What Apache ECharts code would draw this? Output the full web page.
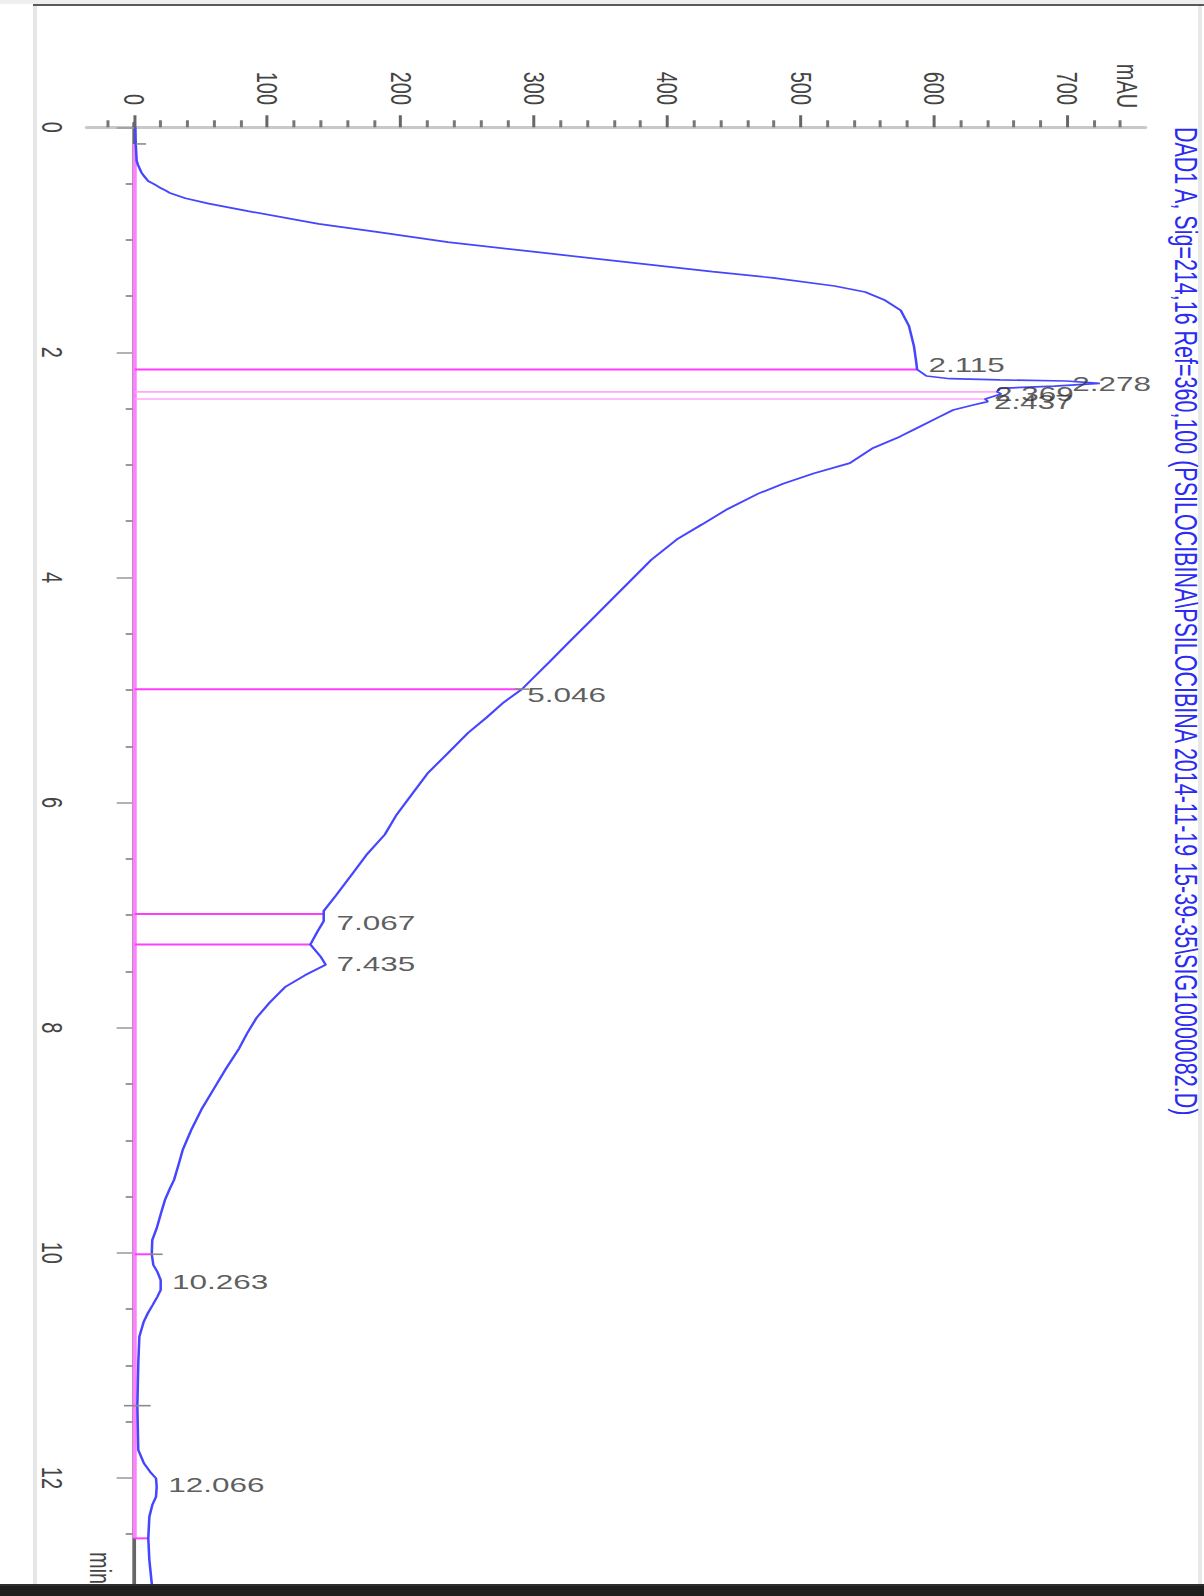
<!DOCTYPE html>
<html>
<head>
<meta charset="utf-8">
<title>DAD1 A chromatogram</title>
<script src="https://cdn.jsdelivr.net/npm/echarts@6/dist/echarts.min.js"></script>
<style>
  html, body { margin: 0; padding: 0; background: #fff; }
  #page { position: relative; width: 1204px; height: 1596px; overflow: hidden; background: #fff; }
  .band { position: absolute; }
  #chart {
    position: absolute; left: 0; top: 0;
    width: 1596px; height: 803px;
    transform-origin: 0 0;
    /* printout is laid on its side: time runs down the page, signal to the right */
    transform: translate(1204px, 0) rotate(90deg) scale(1, 1.499377);
  }
</style>
</head>
<body>
<div id="page">
  <div class="band" style="left:0;top:0;width:1204px;height:4px;background:#efefef"></div>
  <div class="band" style="left:33px;top:4px;width:1171px;height:2px;background:#5a5a5a"></div>
  <div class="band" style="left:33px;top:6px;width:4px;height:1578px;background:#e6e6e6"></div>
  <div class="band" style="left:1198px;top:6px;width:4px;height:1578px;background:#e8e8e8"></div>
  <div id="chart"></div>
  <div class="band" style="left:0;top:1584px;width:1204px;height:2px;background:#2e2e2e;z-index:5"></div>
  <div class="band" style="left:0;top:1586px;width:1204px;height:10px;background:#1e1e1e;z-index:5"></div>
</div>
<script>
// DAD1 A signal trace (retention time in min, absorbance in mAU)
const timeMin = [
  0.00, 0.15, 0.30, 0.335, 0.40, 0.433, 0.477, 0.498, 0.519, 0.542, 0.563, 0.581,
  0.63, 0.678, 0.745, 0.858, 0.930, 1.021, 1.112, 1.202, 1.283, 1.338, 1.410,
  1.464, 1.537, 1.627, 1.763, 1.944, 2.068, 2.152, 2.210, 2.234, 2.245, 2.254, 2.275,
  2.300, 2.319, 2.351, 2.369, 2.414, 2.437, 2.467, 2.512, 2.571, 2.674, 2.749, 2.849,
  2.984, 3.074, 3.165, 3.255, 3.391, 3.527, 3.662, 3.843, 4.024, 4.205, 4.386, 4.567,
  4.748, 4.883, 4.992, 5.109, 5.245, 5.380, 5.561, 5.742, 5.923, 6.104, 6.285, 6.466,
  6.646, 6.827, 6.963, 7.053, 7.144, 7.261, 7.369, 7.441, 7.532, 7.640, 7.776, 7.912,
  8.047, 8.183, 8.364, 8.545, 8.726, 8.907, 9.087, 9.205, 9.353, 9.427, 9.531, 9.649,
  9.782, 9.886, 10.013, 10.108, 10.168, 10.242, 10.331, 10.390, 10.464, 10.538, 10.612,
  10.745, 10.982, 11.358, 11.752, 11.871, 11.945, 12.004, 12.078, 12.167, 12.241,
  12.345, 12.537, 12.729, 12.937, 13.05
];
const signalMAU = [
  0.5, 0.8, 1.5, 2.5, 5, 7, 10, 13.5, 16.5, 19.8, 23.4, 25.9,
  38, 55.6, 85, 138, 181.5, 235, 303.8, 372.5, 433.4, 479, 525,
  548, 563, 574.7, 580.8, 584.6, 586.1, 587, 594, 611.6, 649, 699, 724,
  690, 649, 647, 650, 638, 640, 629, 614, 604, 586.6, 574, 554,
  536.5, 509.8, 486.9, 467.8, 444.9, 425.8, 406.7, 387.6, 372.3, 357.1, 341.8, 326.5,
  311.3, 299.8, 290.6, 276.9, 263.9, 250.2, 234.9, 219.6, 208.2, 196.7, 187.6, 173.8,
  162.4, 150.9, 141.8, 141.8, 137.2, 131.8, 139.5, 143.3, 128.0, 112.7, 101.3, 91.4,
  84.5, 78.4, 68.5, 59.3, 50.1, 42.5, 36.0, 33.2, 29.5, 26.5, 22.7, 19.7,
  16.5, 13.2, 12.8, 14.0, 17.0, 19.5, 19.5, 17.0, 13.5, 9.8, 6.8,
  3.5, 2.7, 2.0, 2.7, 7.0, 11.5, 16.0, 16.5, 16.0, 13.2,
  11.0, 10.2, 11.0, 12.8, 13.5
];

// integrated peaks: retention time and the height where its label sits
const peakTimes    = [2.115, 2.278, 2.369, 2.437, 5.046, 7.067, 7.435, 10.263, 12.066];
const peakLabelMAU = [587,   695,   637,   636,   286,   143,   143,   19.5,   16.7];

// integration baseline and the drop lines between peaks
const baselineSpan   = [0.148, 12.537];
const dropTimes      = [2.152, 4.992, 6.990, 7.261, 10.013, 12.537];
const dropMAU        = [587,   290.6, 141.8, 131.8, 11.5,   10.2];
const splitDropTimes = [2.351, 2.414];
const splitDropMAU   = [647,   638];

// baseline event marks: time, low end, high end (mAU)
const markTimes = [0.148, 4.992, 10.013, 11.358];
const markLow   = [1,     285,   11.5,   -8];
const markHigh  = [8.5,   296,   21,     12];

// axis ticks
const timeTicks      = [0, 2, 4, 6, 8, 10, 12];
const timeMinorTicks = [0.5, 1, 1.5, 2.5, 3, 3.5, 4.5, 5, 5.5, 6.5, 7, 7.5, 8.5, 9, 9.5, 10.5, 11, 11.5, 12.5, 13];
const mauTicks       = [0, 100, 200, 300, 400, 500, 600, 700];
const mauMinorTicks  = [-20, 20, 40, 60, 80, 120, 140, 160, 180, 220, 240, 260, 280, 320, 340, 360, 380,
                        420, 440, 460, 480, 520, 540, 560, 580, 620, 640, 660, 680, 720, 740];

const FONT = "'Liberation Sans', Arial, sans-serif";
const TIME_RANGE = [-0.038, 13.049];
const MAU_RANGE = [-35.8, 758];

const trace = timeMin.map((t, i) => [t, signalMAU[i]]);
const peaks = peakTimes.map((t, i) => [t, peakLabelMAU[i]]);
const drops = dropTimes.map((t, i) => [t, 0, dropMAU[i]]);
const splitDrops = splitDropTimes.map((t, i) => [t, 0, splitDropMAU[i]]);
const marks = markTimes.map((t, i) => [t, markLow[i], markHigh[i]]);

function verticalSegment(stroke, width) {
  return function (params, api) {
    const a = api.coord([api.value(0), api.value(1)]);
    const b = api.coord([api.value(0), api.value(2)]);
    return {
      type: 'line',
      shape: { x1: a[0], y1: a[1], x2: b[0], y2: b[1] },
      style: { stroke: stroke, lineWidth: width }
    };
  };
}

const chart = echarts.init(document.getElementById('chart'), null, { renderer: 'svg' });

chart.setOption({
  animation: false,
  backgroundColor: 'transparent',
  title: {
    text: 'DAD1 A, Sig=214,16 Ref=360,100 (PSILOCIBINA\\PSILOCIBINA 2014-11-19 15-39-35\\SIG10000082.D)',
    left: 127, top: 1, padding: 0,
    textStyle: { fontFamily: FONT, fontSize: 21.5, fontWeight: 'normal', color: '#2b2bf2' }
  },
  grid: { left: 123, right: 0, top: 39.3, bottom: 58, outerBoundsMode: 'none' },
  xAxis: [
    {
      type: 'value', position: 'bottom', min: TIME_RANGE[0], max: TIME_RANGE[1],
      name: 'min', nameLocation: 'end', nameGap: -44, nameMoveOverlap: false,
      nameTextStyle: { fontFamily: FONT, fontSize: 20, color: '#444', align: 'left', verticalAlign: 'top', padding: [13, 0, 0, 0] },
      axisLine: { show: true, lineStyle: { color: '#666', width: 2.5 } },
      axisTick: { show: true, length: 12, customValues: timeTicks, lineStyle: { color: '#999', width: 1.5 } },
      axisLabel: { show: true, customValues: timeTicks, margin: 13, fontFamily: FONT, fontSize: 20, color: '#444' },
      splitLine: { show: false }
    },
    {
      type: 'value', position: 'bottom', min: TIME_RANGE[0], max: TIME_RANGE[1],
      axisLine: { show: false },
      axisTick: { show: true, length: 6, customValues: timeMinorTicks, lineStyle: { color: '#777', width: 1.5 } },
      axisLabel: { show: false },
      splitLine: { show: false }
    }
  ],
  yAxis: [
    {
      type: 'value', position: 'left', min: MAU_RANGE[0], max: MAU_RANGE[1],
      name: 'mAU', nameLocation: 'end', nameGap: -11.5, nameMoveOverlap: false,
      nameTextStyle: { fontFamily: FONT, fontSize: 20, color: '#444', align: 'right', verticalAlign: 'middle', padding: [0, 19, 0, 0] },
      axisLine: { show: true, lineStyle: { color: '#c8c8c8', width: 3 } },
      axisTick: { show: true, length: 12, customValues: mauTicks, lineStyle: { color: '#666', width: 2 } },
      axisLabel: { show: true, customValues: mauTicks, margin: 18, fontFamily: FONT, fontSize: 20, color: '#444' },
      splitLine: { show: false }
    },
    {
      type: 'value', position: 'left', min: MAU_RANGE[0], max: MAU_RANGE[1],
      axisLine: { show: false },
      axisTick: { show: true, length: 7, customValues: mauMinorTicks, lineStyle: { color: '#777', width: 2 } },
      axisLabel: { show: false },
      splitLine: { show: false }
    }
  ],
  series: [
    {
      name: 'baseline', type: 'line', xAxisIndex: 0, yAxisIndex: 0,
      data: [[baselineSpan[0], 0], [baselineSpan[1], 0]],
      symbol: 'none', silent: true, z: 1,
      lineStyle: { color: '#ff80ff', width: 2.7 }
    },
    {
      name: 'drop lines', type: 'custom', xAxisIndex: 0, yAxisIndex: 0,
      data: drops, encode: { x: 0, y: [1, 2] }, silent: true, z: 2,
      renderItem: verticalSegment('#ff3cff', 2)
    },
    {
      name: 'split drop lines', type: 'custom', xAxisIndex: 0, yAxisIndex: 0,
      data: splitDrops, encode: { x: 0, y: [1, 2] }, silent: true, z: 2,
      renderItem: verticalSegment('#ffa6ff', 1.6)
    },
    {
      name: 'baseline marks', type: 'custom', xAxisIndex: 0, yAxisIndex: 0,
      data: marks, encode: { x: 0, y: [1, 2] }, silent: true, z: 4,
      renderItem: verticalSegment('#8a8a8a', 1.6)
    },
    {
      name: 'DAD1 A', type: 'line', xAxisIndex: 0, yAxisIndex: 0,
      data: trace, symbol: 'none', silent: true, z: 3,
      lineStyle: { color: '#4646ff', width: 1.7 }
    },
    {
      name: 'peaks', type: 'scatter', xAxisIndex: 0, yAxisIndex: 0,
      data: peaks, symbol: 'circle', symbolSize: 1, silent: true, z: 5,
      itemStyle: { color: 'rgba(0,0,0,0)' },
      label: {
        show: true, position: 'top', distance: 7, rotate: 90,
        align: 'left', verticalAlign: 'middle',
        fontFamily: FONT, fontSize: 21, color: '#333',
        formatter: p => p.value[0].toFixed(3)
      }
    }
  ]
});
</script>
</body>
</html>
